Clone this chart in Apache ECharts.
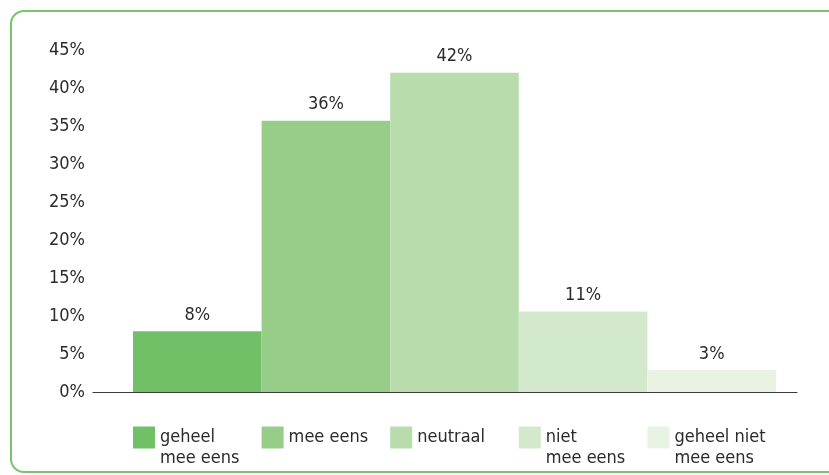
<!DOCTYPE html>
<html>
<head>
<meta charset="utf-8">
<script src="https://cdn.jsdelivr.net/npm/echarts@6/dist/echarts.min.js"></script>
<style>
html,body{margin:0;padding:0;background:#fff;}
#c{width:829px;height:475px;}
</style>
</head>
<body>
<div id="c"></div>
<script>
var categories = ['geheel mee eens', 'mee eens', 'neutraal', 'niet mee eens', 'geheel niet mee eens'];
var legendLabels = ['geheel\nmee eens', 'mee eens\n', 'neutraal\n', 'niet\nmee eens', 'geheel niet\nmee eens'];
var values = [8.0, 35.7, 42.0, 10.6, 2.9];
var barLabels = ['8%', '36%', '42%', '11%', '3%'];
var yTicks = [0, 5, 10, 15, 20, 25, 30, 35, 40, 45];
var colors = ['#71c068', '#97cd89', '#b9dcad', '#d3e9cc', '#e8f3e4'];

var FONT = '"DejaVu Sans Condensed", "Liberation Sans Narrow", sans-serif';
var TXT = '#2b2b2b';
var FS = 18;

var plotLeft = 133, plotRight = 776, W = 829;
var step = (plotRight - plotLeft) / categories.length;

var series = categories.map(function (name, i) {
  var d = categories.map(function (_, j) { return j === i ? values[i] : null; });
  return {
    name: name,
    type: 'bar',
    stack: 'all',
    xAxisIndex: 1,
    yAxisIndex: 1,
    barCategoryGap: 0,
    itemStyle: { color: colors[i] },
    label: {
      show: true,
      position: 'top',
      distance: 7,
      formatter: function () { return barLabels[i]; },
      fontFamily: FONT,
      fontSize: FS,
      color: TXT
    },
    data: d
  };
});

var legends = categories.map(function (name, i) {
  return {
    data: [name],
    left: plotLeft + i * step,
    top: 406,
    padding: 0,
    itemWidth: 22,
    itemHeight: 22,
    itemGap: 0,
    selectedMode: false,
    icon: 'rect',
    formatter: function () { return '\n' + legendLabels[i]; },
    textStyle: {
      fontFamily: FONT,
      fontSize: FS,
      lineHeight: 21,
      color: TXT
    }
  };
});

var chart = echarts.init(document.getElementById('c'), null, { renderer: 'canvas' });
chart.setOption({
  animation: false,
  backgroundColor: '#fff',
  graphic: [{
    type: 'rect',
    shape: { x: 11, y: 11, width: 900, height: 461, r: 13 },
    style: { fill: 'none', stroke: '#78c46b', lineWidth: 2 },
    silent: true,
    z: -1
  }],
  legend: legends,
  grid: [
    { left: 93, right: W - 797, top: 50, bottom: 83 },
    { left: plotLeft, right: W - plotRight, top: 50, bottom: 83 }
  ],
  xAxis: [
    {
      gridIndex: 0, type: 'value', min: 0, max: 1,
      axisLine: { show: true, lineStyle: { color: '#3a3a3a', width: 1 } },
      axisTick: { show: false }, axisLabel: { show: false }, splitLine: { show: false }
    },
    {
      gridIndex: 1, type: 'category', data: categories, show: false
    }
  ],
  yAxis: [
    {
      gridIndex: 0, type: 'value', min: yTicks[0], max: yTicks[yTicks.length - 1], interval: yTicks[1] - yTicks[0],
      axisLine: { show: false }, axisTick: { show: false }, splitLine: { show: false },
      axisLabel: {
        margin: 8,
        formatter: '{value}%',
        fontFamily: FONT,
        fontSize: FS,
        color: TXT,
        padding: [0, 0, 6, 0]
      }
    },
    {
      gridIndex: 1, type: 'value', min: yTicks[0], max: yTicks[yTicks.length - 1], show: false
    }
  ],
  series: series
});
</script>
</body>
</html>
